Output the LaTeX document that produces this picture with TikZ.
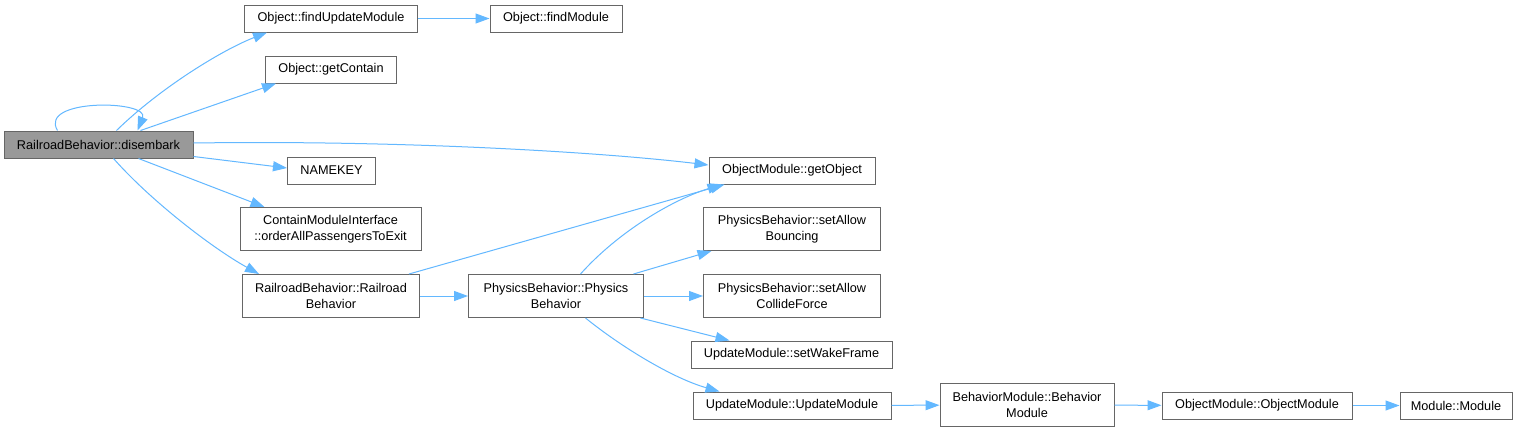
\documentclass[tikz,border=0pt]{standalone}
\usepackage{fontspec}
\setmainfont{Liberation Sans}
\usetikzlibrary{arrows.meta,calc}
\definecolor{edgeblue}{HTML}{63B8FF}
\definecolor{boxgray}{HTML}{666666}
\definecolor{fillgray}{HTML}{999999}
\tikzset{
  fn/.style={draw=boxgray, fill=white, line width=1pt, inner sep=0pt, align=center,
    minimum height=27pt, font=\fontsize{12.7}{16}\selectfont},
  fn2/.style={fn, minimum height=43pt},
  cur/.style={fn, fill=fillgray},
  call/.style={draw=edgeblue, line width=1pt, -{Triangle[length=14pt,width=10pt]}}
}
\begin{document}
\begin{tikzpicture}[x=1pt,y=-1pt]
\useasboundingbox[fill=white] (0,0) rectangle (1518,432);
\node[cur, minimum width=189pt] (dis) at (98.5,144.5) {RailroadBehavior::disembark};
\node[fn, minimum width=173pt] (fum) at (331,18.5) {Object::findUpdateModule};
\node[fn, minimum width=132pt] (fm) at (556,18.5) {Object::findModule};
\node[fn, minimum width=131pt] (gc) at (331,69.5) {Object::getContain};
\node[fn, minimum width=88pt] (nk) at (331.5,170.5) {NAMEKEY};
\node[fn2, minimum width=181pt] (cmi) at (330.5,229) {ContainModuleInterface\\::orderAllPassengersToExit};
\node[fn2, minimum width=177pt] (rr) at (331,296) {RailroadBehavior::Railroad\\Behavior};
\node[fn2, minimum width=175pt] (pb) at (556,296) {PhysicsBehavior::Physics\\Behavior};
\node[fn, minimum width=166pt] (go) at (792,170.5) {ObjectModule::getObject};
\node[fn2, minimum width=177pt] (sab) at (792,229) {PhysicsBehavior::setAllow\\Bouncing};
\node[fn2, minimum width=177pt] (sacf) at (792,296) {PhysicsBehavior::setAllow\\CollideForce};
\node[fn, minimum width=201pt] (swf) at (791.5,354.5) {UpdateModule::setWakeFrame};
\node[fn, minimum width=198pt] (um) at (792,405.5) {UpdateModule::UpdateModule};
\node[fn2, minimum width=174pt] (bm) at (1027,405) {BehaviorModule::Behavior\\Module};
\node[fn, minimum width=190pt] (om) at (1257,405.5) {ObjectModule::ObjectModule};
\node[fn, minimum width=112pt] (m) at (1456,405.5) {Module::Module};

% self loop
\draw[call] ($(dis.north west)+(54,0)$) .. controls (38,98) and (150,100) .. ($(dis.north west)+(134,0)$);
\draw[call] ($(dis.north west)+(113,0)$) .. controls (160,88) and (222,50) .. ($(fum.south west)+(23,0)$);
\draw[call] ($(dis.north west)+(137,0)$) -- ($(gc.south west)+(11,0)$);
\draw[call] ($(dis.east)+(0,-1.5)$) .. controls (400,140) and (600,152) .. ($(go.west)+(0,-5.5)$);
\draw[call] ($(dis.south east)+(0,-2)$) -- ($(nk.west)+(0,-2.5)$);
\draw[call] ($(dis.south west)+(135,0)$) -- ($(cmi.north west)+(25,0)$);
\draw[call] ($(dis.south west)+(110,0)$) .. controls (150,200) and (212,248) .. ($(rr.north west)+(17,0)$);
\draw[call] (fum) -- (fm);
\draw[call] ($(rr.north west)+(167,0)$) -- ($(go.south west)+(16,0)$);
\draw[call] (rr) -- (pb);
\draw[call] ($(pb.north west)+(112.5,0)$) .. controls (618,232) and (672,200) .. ($(go.south west)+(13,0)$);
\draw[call] ($(pb.north west)+(165.5,0)$) -- ($(sab.south west)+(8.5,0)$);
\draw[call] (pb) -- (sacf);
\draw[call] ($(pb.south east)+(-3.5,0)$) -- ($(swf.north west)+(39,0)$);
\draw[call] ($(pb.south west)+(117.5,0)$) .. controls (620,346) and (672,378) .. ($(um.north west)+(27,0)$);
\draw[call] (um) -- (bm);
\draw[call] (bm) -- (om);
\draw[call] (om) -- (m);
\end{tikzpicture}
\end{document}
